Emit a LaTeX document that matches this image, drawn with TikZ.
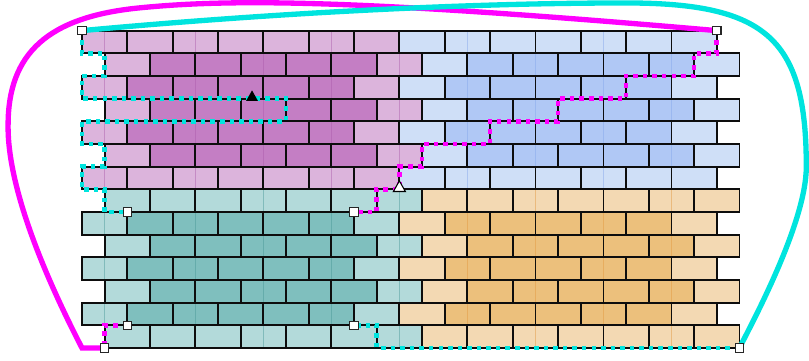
\documentclass[tikz,border=0pt]{standalone}
\usetikzlibrary{shapes.geometric}
\definecolor{q0l}{RGB}{220,180,220}
\definecolor{q0d}{RGB}{196,126,196}
\definecolor{q1l}{RGB}{207,223,247}
\definecolor{q1d}{RGB}{176,200,245}
\definecolor{q2l}{RGB}{179,218,218}
\definecolor{q2d}{RGB}{127,191,190}
\definecolor{q3l}{RGB}{243,217,179}
\definecolor{q3d}{RGB}{236,192,124}
\definecolor{f0}{RGB}{170,90,170}
\definecolor{f1}{RGB}{130,165,235}
\definecolor{f2}{RGB}{70,150,150}
\definecolor{f3}{RGB}{225,150,60}
\definecolor{mag}{RGB}{255,0,255}
\definecolor{cya}{RGB}{0,228,222}
\tikzset{
  brickline/.style={draw=black!95, line width=1.35pt},
  faint/.style={line width=0.6pt, opacity=0.45},
  thick curve/.style={line width=4pt},
  dotpath/.style={line width=3.5pt, dash pattern=on 3.4pt off 3.8pt, line cap=butt},
  sq/.style={rectangle, minimum size=6.3pt, inner sep=0pt, fill=white, draw=black!85, line width=0.9pt},
  tri/.style={isosceles triangle, shape border rotate=90, isosceles triangle stretches, minimum width=9pt, minimum height=8pt, inner sep=0pt}
}
\begin{document}
\begin{tikzpicture}[x=0.6cm,y=0.6cm]
\useasboundingbox (-3.617,-0.529) rectangle (32.069,15.351);
% brick fills
\foreach \r in {0,...,13}{
  \foreach \k in {0,...,13}{
    \pgfmathtruncatemacro\o{mod(\r,2)}
    \pgfmathtruncatemacro\xa{2*\k+\o}
    \pgfmathtruncatemacro\yb{13-\r}
    \pgfmathtruncatemacro\q{(\r>6)*2+(\k>6)}
    \pgfmathtruncatemacro\rr{mod(\r,7)}
    \pgfmathtruncatemacro\kk{mod(\k,7)}
    \pgfmathtruncatemacro\lt{or(or(\rr==0,\rr==6),or(\kk==0,\kk==6))}
    \edef\cc{q\q\ifnum\lt=1 l\else d\fi}
    \fill[fill=\cc] (\xa,\yb) rectangle ++(2,1);
  }
}
% faint vertical seams
\foreach \X in {1,5,8,11,14}{
  \draw[faint, f0] (\X,7) -- (\X,14);
  \draw[faint, f2] (\X,0) -- (\X,7);
}
\foreach \X in {17,20,23,26}{
  \draw[faint, f1] (\X,7) -- (\X,14);
  \draw[faint, f3] (\X,0) -- (\X,7);
}
% brick outlines
\foreach \r in {0,...,13}{
  \foreach \k in {0,...,13}{
    \pgfmathtruncatemacro\o{mod(\r,2)}
    \pgfmathtruncatemacro\xa{2*\k+\o}
    \pgfmathtruncatemacro\yb{13-\r}
    \draw[brickline] (\xa,\yb) rectangle ++(2,1);
  }
}
% anchor points
\coordinate (a) at (0,14);
\coordinate (b) at (28,14);
\coordinate (c) at (2,6);
\coordinate (d) at (12,6);
\coordinate (e) at (2,1);
\coordinate (f) at (12,1);
\coordinate (g) at (1,0);
\coordinate (h) at (29,0);
\coordinate (ta) at (7.5,11.05);
\coordinate (tb) at (14,7);
% thick curves
\draw[thick curve, mag] (g) -- (0,0) .. controls (-1.5,2.9) and (-3.3,7.0) .. (-3.26,9.84)
  .. controls (-3.26,13.0) and (-1.5,14.6) .. (2.5,15.0)
  .. controls (6.5,15.4) and (12,15.4) .. (b);
\draw[thick curve, cya] (a) .. controls (7,14.65) and (16,15.22) .. (24,15.22)
  .. controls (30.24,15.22) and (31.95,13.6) .. (31.95,8)
  .. controls (31.95,5.5) and (29.5,1.0) .. (h);
% dotted paths
\draw[dotpath, cya] (a) -- (0,13) -- (1,13) -- (1,12) -- (0,12) -- (0,11) -- (9,11) -- (9,10)
  -- (0,10) -- (0,9) -- (1,9) -- (1,8) -- (0,8) -- (0,7) -- (1,7) -- (1,6) -- (c);
\draw[dotpath, cya] (h) -- (13,0) -- (13,1) -- (f);
\draw[dotpath, mag] (b) -- (28,13) -- (27,13) -- (27,12) -- (24,12) -- (24,11) -- (21,11)
  -- (21,10) -- (18,10) -- (18,9) -- (15,9) -- (15,8) -- (14,8) -- (tb) -- (13,7) -- (13,6) -- (d);
\draw[dotpath, mag] (e) -- (1,1) -- (g);
% markers
\node[sq] (sa) at (a) {};
\node[sq] (sb) at (b) {};
\node[sq] (sc) at (c) {};
\node[sq] (sd) at (d) {};
\node[sq] (se) at (e) {};
\node[sq] (sf) at (f) {};
\node[sq] (sg) at (g) {};
\node[sq] (sh) at (h) {};
\node[tri, fill=black] (tra) at (ta) {};
\node[tri, fill=white, draw=black, line width=0.8pt] (trb) at ([yshift=1pt]tb) {};
\end{tikzpicture}
\end{document}
